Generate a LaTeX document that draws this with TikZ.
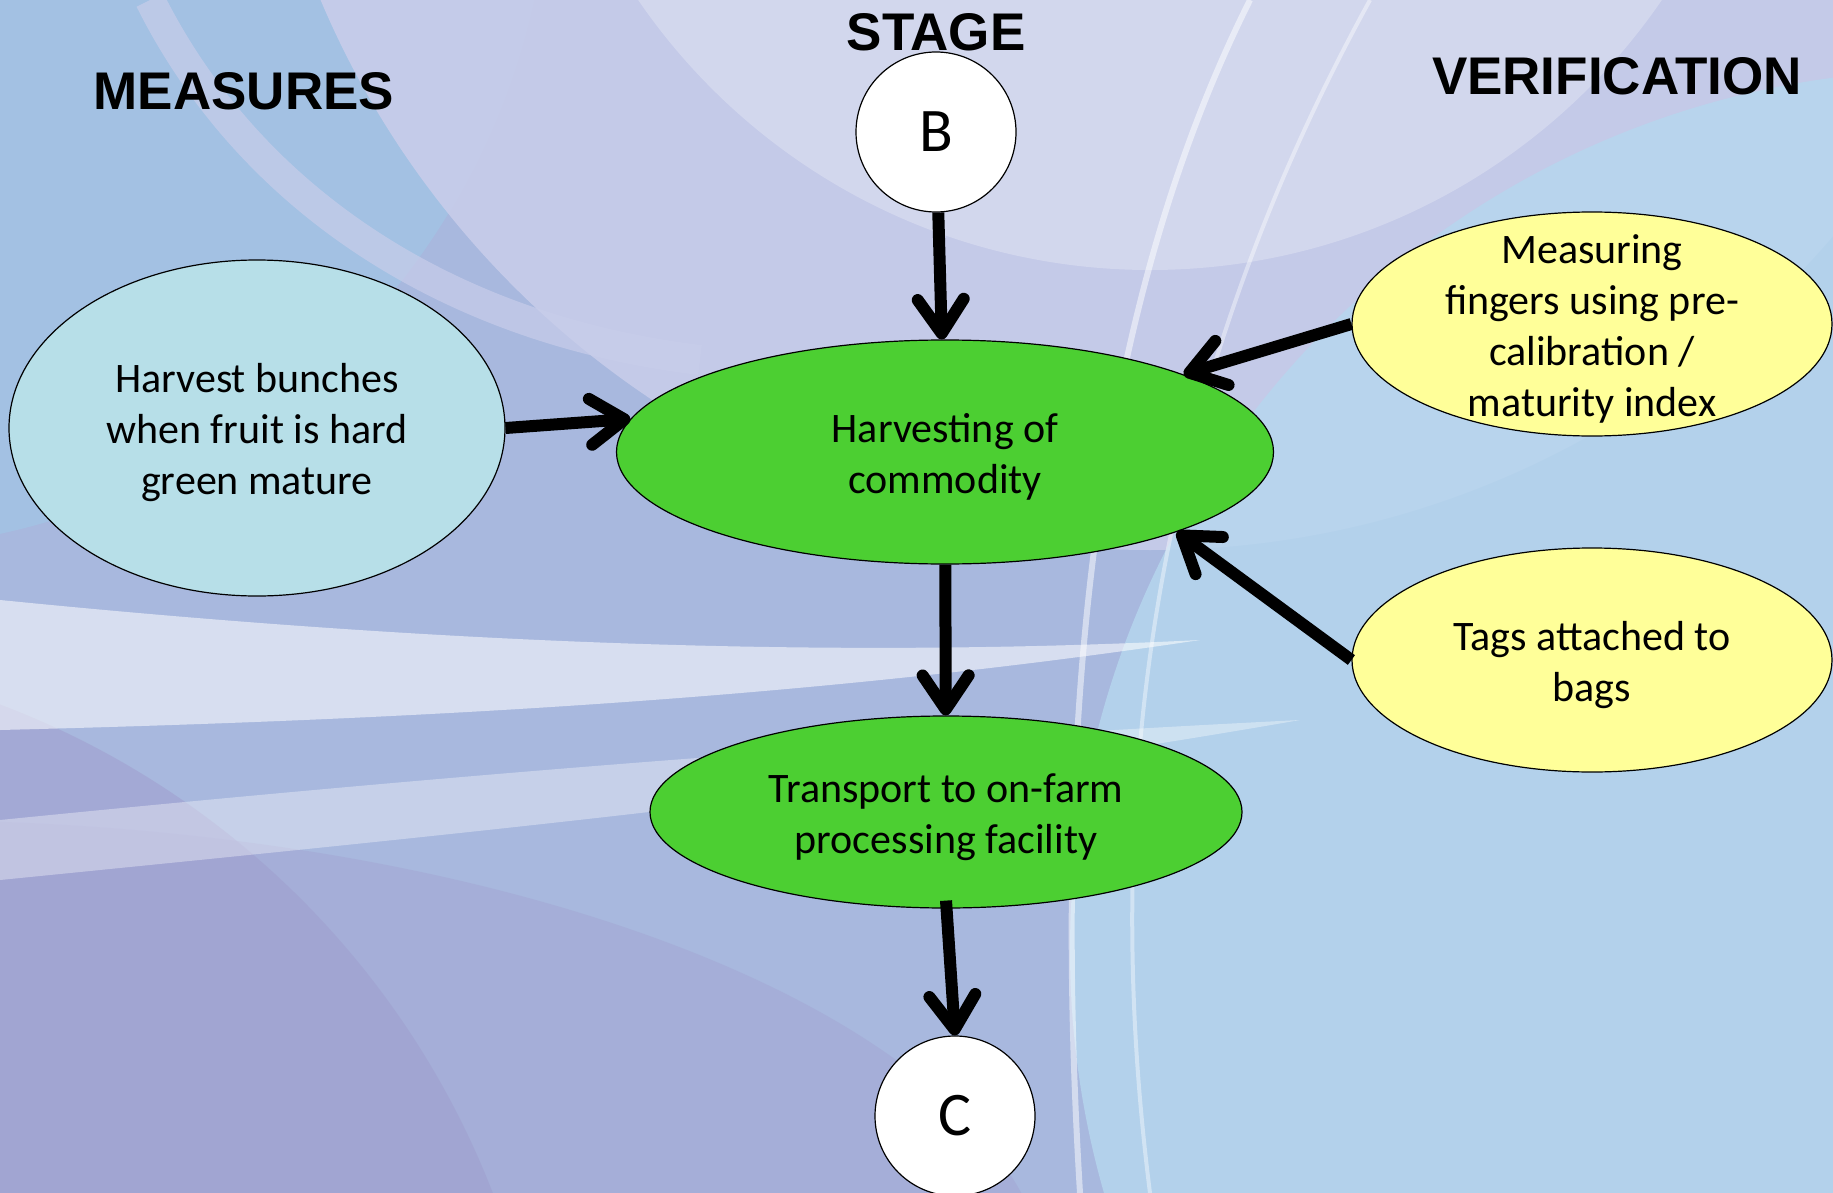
\documentclass[tikz,border=0pt]{standalone}
\usepackage{fontspec}
\setmainfont{Carlito}
\newfontfamily\headfont{Liberation Sans}
\usetikzlibrary{shapes.geometric,arrows.meta}
\definecolor{bgbase}{HTML}{A8B8DE}
\definecolor{bglav}{HTML}{C8CDEA}
\definecolor{bglight}{HTML}{B6D6EE}
\definecolor{bgpurple}{HTML}{A09ECE}
\definecolor{bgtopleft}{HTML}{A3C2E4}
\definecolor{harvgreen}{HTML}{4CCF32}
\definecolor{paleyellow}{HTML}{FFFF99}
\definecolor{paleblue}{HTML}{B7DFE8}
\begin{document}
\begin{tikzpicture}[x=1pt,y=-1pt,
  every node/.style={inner sep=0pt},
  bubble/.style={ellipse, draw=black, line width=1.2pt},
  bubbletext/.style={align=center, font=\fontsize{42}{51}\selectfont, yshift=-5pt},
  stagecirc/.style={circle, draw=black, line width=1.2pt, fill=white,
    minimum size=160pt, font=\fontsize{62}{62}\selectfont},
  heading/.style={font=\headfont\bfseries\fontsize{53}{60}\selectfont},
  flow/.style={line width=12pt, -{Straight Barb[length=34pt,width=46pt,round]}}
]
% ---------- background ----------
\useasboundingbox (0,0) rectangle (1833,1193);
\begin{scope}
\clip (0,0) rectangle (1833,1193);
\fill[bgbase] (0,0) rectangle (1833,1193);
\fill[bgtopleft, opacity=0.9] (-150,-150) circle[radius=700];
\fill[bglav, opacity=0.9] (1150,-350) circle[radius=900];
\fill[white, opacity=0.25] (1150,-350) circle[radius=620];
\fill[bglight, opacity=0.85] (1950,950) circle[radius=880];
\fill[bgpurple, opacity=0.55] (-300,1500) circle[radius=850];
\fill[bgpurple, opacity=0.35] (-100,1300) ellipse[x radius=1150, y radius=480];
\fill[white, opacity=0.55] (0,600) .. controls (400,640) and (800,660) .. (1200,640)
   .. controls (800,700) and (400,720) .. (0,730) -- cycle;
\fill[white, opacity=0.35] (0,820) .. controls (500,770) and (900,740) .. (1300,720)
   .. controls (900,790) and (500,830) .. (0,880) -- cycle;
\draw[white, opacity=0.5, line width=6pt] (1250,0) .. controls (1100,300) and (1050,700) .. (1080,1193);
\draw[white, opacity=0.4, line width=4pt] (1370,0) .. controls (1150,400) and (1100,800) .. (1150,1193);
\draw[bglav, opacity=0.7, line width=30pt] (150,0) .. controls (250,200) and (450,330) .. (700,360);
\end{scope}
% ---------- headings ----------
\node[heading] (stage) at (936,32) {STAGE};
\node[heading] (measures) at (244,91) {MEASURES};
\node[heading] (verif) at (1617,76) {VERIFICATION};
% ---------- nodes ----------
\node[stagecirc] (B) at (936,132) {B};
\node[bubble, fill=harvgreen, minimum width=657pt, minimum height=224pt] (harv) at (945,452) {};
\node[bubbletext] (harvtext) at (harv.center) {Harvesting of\\commodity};
\node[bubble, fill=paleblue, minimum width=496pt, minimum height=336pt] (left) at (257,428) {};
\node[bubbletext] (lefttext) at (left.center) {Harvest bunches\\when fruit is hard\\green mature};
\node[bubble, fill=paleyellow, minimum width=480pt, minimum height=224pt] (tr) at (1592,324) {};
\node[bubbletext] (trtext) at (tr.center)
  {Measuring\\fingers using pre-\\calibration /\\maturity index};
\node[bubble, fill=paleyellow, minimum width=480pt, minimum height=224pt] (br) at (1592,660) {};
\node[bubbletext] (brtext) at (br.center) {Tags attached to\\bags};
\node[bubble, fill=harvgreen, minimum width=592pt, minimum height=192pt] (trans) at (946,812) {};
\node[bubbletext] (transtext) at (trans.center) {Transport to on-farm\\processing facility};
\node[stagecirc] (C) at (955,1116) {C};
% ---------- connectors ----------
\draw[flow] (B) -- (harv);
\draw[flow] (left.east) -- (harv.174);
\draw[flow] (tr.west) -- (harv.18);
\draw[flow] (br.west) -- (harv.-19);
\draw[flow] (harv) -- (trans);
\draw[flow] ([yshift=8pt]trans.south) -- (C.north);
\end{tikzpicture}
\end{document}
